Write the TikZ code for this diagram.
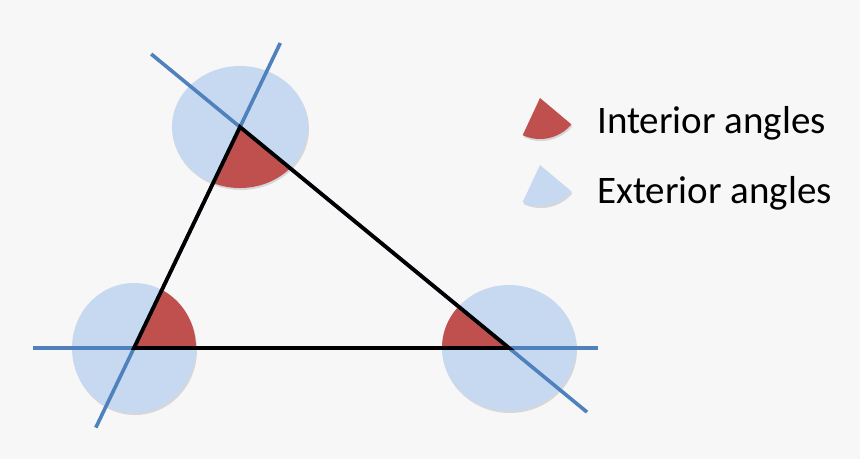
\documentclass[tikz,border=0pt]{standalone}
\usepackage{fontspec}
\setmainfont{Carlito}
\usetikzlibrary{calc,positioning}

\definecolor{bgray}{HTML}{F7F7F7}
\definecolor{lineblue}{HTML}{4F81BD}
\definecolor{paleblue}{HTML}{C6D9F1}
\definecolor{angred}{HTML}{C0504D}

\begin{document}
\begin{tikzpicture}[x=1pt, y=1pt,
    extline/.style = {draw=lineblue, line width=3.6pt},
    side/.style = {draw=black, line width=3.8pt, line join=miter},
    shade/.style = {fill=black!30, opacity=0.45},
    legend/.style = {anchor=base west, inner sep=0pt, font=\fontsize{39}{47}\selectfont}]
    \fill[bgray] (0,0) rectangle (860,-459);
    \useasboundingbox (0,0) rectangle (860,-459);

    \coordinate (A) at (240,-127);
    \coordinate (B) at (134,-348);
    \coordinate (C) at (509,-348);

    % exterior discs
    \fill[shade] ([shift={(1,-2)}]A) ellipse [x radius=68pt, y radius=61pt];
    \fill[shade] ([shift={(1,-2)}]B) ellipse [x radius=62pt, y radius=65pt];
    \fill[shade] ([shift={(1,-2)}]C) ellipse [x radius=67pt, y radius=63pt];
    \fill[paleblue] (A) ellipse [x radius=68pt, y radius=61pt];
    \fill[paleblue] (B) ellipse [x radius=62pt, y radius=65pt];
    \fill[paleblue] (C) ellipse [x radius=67pt, y radius=63pt];

    % interior parts
    \begin{scope}
        \clip (A) -- (B) -- (C) -- cycle;
        \fill[angred] (A) ellipse [x radius=68pt, y radius=61pt];
        \fill[angred] (B) ellipse [x radius=62pt, y radius=65pt];
        \fill[angred] (C) ellipse [x radius=67pt, y radius=63pt];
    \end{scope}

    \draw[extline] ($(A)!-0.38!(B)$) -- ($(A)!1.36!(B)$);
    \draw[extline] ($(A)!-0.33!(C)$) -- ($(A)!1.29!(C)$);
    \draw[extline] ($(B)!-0.27!(C)$) -- ($(B)!1.237!(C)$);

    \draw[side] (A) -- (B) -- (C) -- cycle;

    % legend
    \coordinate (ri) at (540,-98);
    \coordinate (bi) at (540,-165);
    \fill[shade] ([shift={(1,-2)}]ri) -- ++(245:41pt) arc[start angle=245, end angle=320, radius=41pt] -- cycle;
    \fill[angred] (ri) -- ++(245:41pt) arc[start angle=245, end angle=320, radius=41pt] -- cycle;
    \fill[shade] ([shift={(1,-2)}]bi) -- ++(245:41pt) arc[start angle=245, end angle=320, radius=41pt] -- cycle;
    \fill[paleblue] (bi) -- ++(245:41pt) arc[start angle=245, end angle=320, radius=41pt] -- cycle;

    \node[legend] (inttext) at (597,-133) {Interior angles};
    \node[legend] (exttext) at (597,-203) {Exterior angles};
\end{tikzpicture}
\end{document}
